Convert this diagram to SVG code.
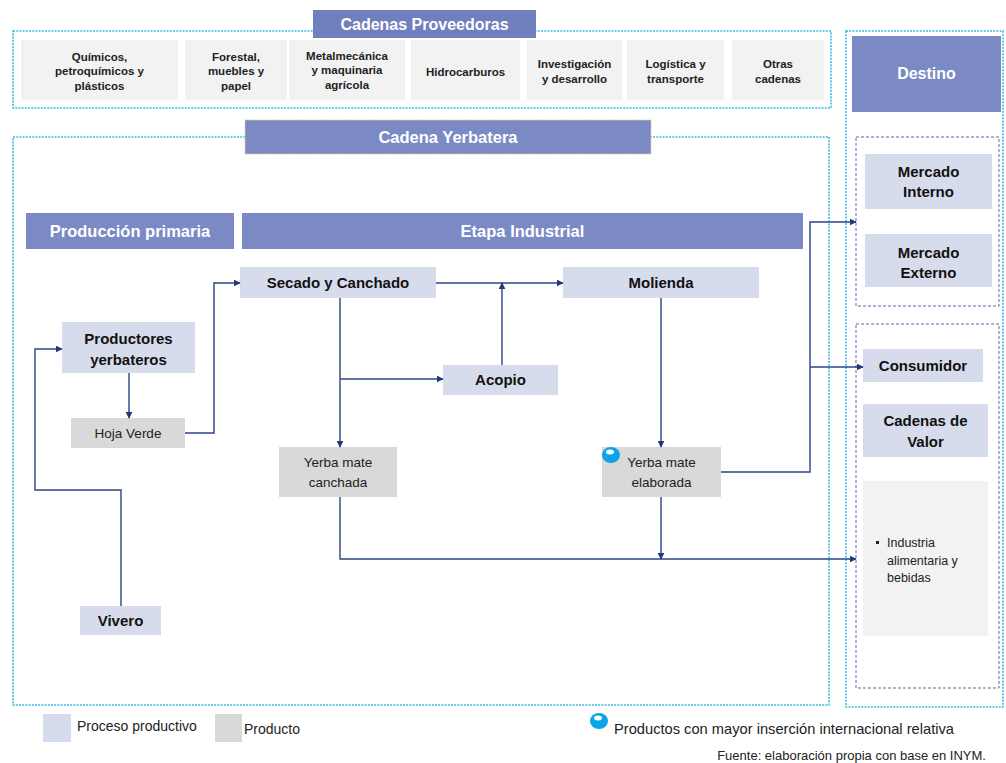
<svg xmlns="http://www.w3.org/2000/svg" width="1006" height="763" viewBox="0 0 1006 763">
<defs>
<marker id="ah" viewBox="0 0 10 10" refX="9" refY="5" markerWidth="7" markerHeight="7" markerUnits="userSpaceOnUse" orient="auto"><path d="M0,0 L10,5 L0,10 z" fill="#1f3a78"/></marker>
<style>
.cy{fill:none;stroke:#3cb8e8;stroke-width:1.6;stroke-dasharray:2 1.2}
.nv{fill:none;stroke:#5a68a8;stroke-width:1;stroke-dasharray:3 2}
.hd{fill:#7b8ac5}
.pr{fill:#d7dcec}
.pd{fill:#d9d9d9}
.sp{fill:#f2f2f2}
.ht{font-family:"Liberation Sans",Arial,sans-serif;font-weight:bold;fill:#ffffff;text-anchor:middle}
.nt{font-family:"Liberation Sans",Arial,sans-serif;font-weight:bold;fill:#111111;text-anchor:middle;font-size:15px}
.pt{font-family:"Liberation Sans",Arial,sans-serif;fill:#222222;text-anchor:middle;font-size:13.5px}
.st{font-family:"Liberation Sans",Arial,sans-serif;font-weight:bold;fill:#222222;text-anchor:middle;font-size:11.5px}
.lt{font-family:"Liberation Sans",Arial,sans-serif;fill:#222222}
.cn{fill:none;stroke:#2b4483;stroke-width:1.4}
</style>
</defs>
<rect width="1006" height="763" fill="#ffffff"/>

<!-- Cadenas Proveedoras -->
<g id="proveedoras">
<rect class="cy" x="13" y="31" width="818" height="77"/>
<rect x="313" y="10" width="223" height="28" fill="#6f80bd"/>
<text class="ht" x="424.5" y="30" font-size="16">Cadenas Proveedoras</text>
</g>
<g id="quimicos"><rect class="sp" x="21" y="40" width="157" height="60"/>
<text class="st" x="99.5" y="61">Químicos,</text><text class="st" x="99.5" y="75">petroquímicos y</text><text class="st" x="99.5" y="90">plásticos</text></g>
<g id="forestal"><rect class="sp" x="185" y="40" width="102" height="60"/>
<text class="st" x="236" y="61">Forestal,</text><text class="st" x="236" y="75">muebles y</text><text class="st" x="236" y="90">papel</text></g>
<g id="metalmecanica"><rect class="sp" x="289" y="40" width="116" height="60"/>
<text class="st" x="347" y="60">Metalmecánica</text><text class="st" x="347" y="74">y maquinaria</text><text class="st" x="347" y="89">agrícola</text></g>
<g id="hidrocarburos"><rect class="sp" x="411" y="40" width="109" height="60"/>
<text class="st" x="465.5" y="76">Hidrocarburos</text></g>
<g id="investigacion"><rect class="sp" x="527" y="40" width="95" height="60"/>
<text class="st" x="574.5" y="68">Investigación</text><text class="st" x="574.5" y="83">y desarrollo</text></g>
<g id="logistica"><rect class="sp" x="627" y="40" width="97" height="60"/>
<text class="st" x="675.5" y="68">Logística y</text><text class="st" x="675.5" y="83">transporte</text></g>
<g id="otras"><rect class="sp" x="732" y="40" width="92" height="60"/>
<text class="st" x="778" y="68">Otras</text><text class="st" x="778" y="83">cadenas</text></g>

<!-- Destino -->
<g id="destino">
<rect class="cy" x="846" y="31" width="157" height="676"/>
<rect class="hd" x="852" y="36" width="149" height="76"/>
<text class="ht" x="926.5" y="79" font-size="16">Destino</text>
<rect class="nv" x="856" y="137" width="143" height="169"/>
<rect class="nv" x="856" y="324" width="143" height="364"/>
</g>
<g id="mercado-interno"><rect class="pr" x="865" y="154" width="127" height="55"/>
<text class="nt" x="928.5" y="177" font-size="15.5">Mercado</text><text class="nt" x="928.5" y="197" font-size="15.5">Interno</text></g>
<g id="mercado-externo"><rect class="pr" x="865" y="234" width="127" height="53"/>
<text class="nt" x="928.5" y="258" font-size="15.5">Mercado</text><text class="nt" x="928.5" y="278" font-size="15.5">Externo</text></g>
<g id="consumidor"><rect class="pr" x="863" y="349" width="120" height="33"/>
<text class="nt" x="923" y="371">Consumidor</text></g>
<g id="cadenas-valor"><rect class="pr" x="863" y="404" width="125" height="53"/>
<text class="nt" x="925.5" y="426" font-size="15.5">Cadenas de</text><text class="nt" x="925.5" y="447" font-size="15.5">Valor</text></g>
<g id="industria"><rect class="sp" x="863" y="481" width="125" height="155"/>
<rect x="876" y="541" width="3" height="3" fill="#222"/>
<text class="lt" x="887" y="547" font-size="12.5">Industria</text>
<text class="lt" x="887" y="565" font-size="12.5">alimentaria y</text>
<text class="lt" x="887" y="582" font-size="12.5">bebidas</text></g>

<!-- Cadena Yerbatera -->
<g id="yerbatera">
<rect class="cy" x="13" y="137" width="816" height="568"/>
<rect class="hd" x="245" y="120" width="406" height="34" stroke="#d8d090" stroke-width="1" stroke-dasharray="2 1"/>
<text class="ht" x="448" y="143" font-size="16.5">Cadena Yerbatera</text>
</g>
<g id="produccion-primaria"><rect class="hd" x="26" y="213" width="208" height="36"/>
<text class="ht" x="130" y="237" font-size="16.5">Producción primaria</text></g>
<g id="etapa-industrial"><rect class="hd" x="242" y="213" width="561" height="36"/>
<text class="ht" x="522.5" y="237" font-size="16.5">Etapa Industrial</text></g>

<g id="secado"><rect class="pr" x="240" y="267" width="196" height="31"/>
<text class="nt" x="338" y="288">Secado y Canchado</text></g>
<g id="molienda"><rect class="pr" x="563" y="267" width="196" height="31"/>
<text class="nt" x="661" y="288">Molienda</text></g>
<g id="acopio"><rect class="pr" x="443" y="365" width="115" height="30"/>
<text class="nt" x="500.5" y="385">Acopio</text></g>
<g id="productores"><rect class="pr" x="62" y="322" width="133" height="51"/>
<text class="nt" x="128.5" y="344">Productores</text><text class="nt" x="128.5" y="365">yerbateros</text></g>
<g id="hoja-verde"><rect class="pd" x="71" y="418" width="114" height="30"/>
<text class="pt" x="128" y="438">Hoja Verde</text></g>
<g id="canchada"><rect class="pd" x="279" y="447" width="118" height="50"/>
<text class="pt" x="338" y="467">Yerba mate</text><text class="pt" x="338" y="487">canchada</text></g>
<g id="elaborada"><rect class="pd" x="602" y="447" width="119" height="50"/>
<text class="pt" x="661.5" y="467">Yerba mate</text><text class="pt" x="661.5" y="487">elaborada</text>
<ellipse cx="611" cy="455" rx="9" ry="8" fill="#0aa4e8"/><ellipse cx="610" cy="452" rx="4" ry="2.5" fill="#ffffff"/></g>
<g id="vivero"><rect class="pr" x="80" y="606" width="81" height="29"/>
<text class="nt" x="120.5" y="626">Vivero</text></g>

<!-- Connectors -->
<g id="connectors">
<path class="cn" d="M436,283 H563" marker-end="url(#ah)"/>
<path class="cn" d="M502,365 V283" marker-end="url(#ah)"/>
<path class="cn" d="M340,298 V447" marker-end="url(#ah)"/>
<path class="cn" d="M340,379 H443" marker-end="url(#ah)"/>
<path class="cn" d="M185,433 H214 V283 H240" marker-end="url(#ah)"/>
<path class="cn" d="M129,373 V418" marker-end="url(#ah)"/>
<path class="cn" d="M121,606 V490 H35 V349 H62" marker-end="url(#ah)"/>
<path class="cn" d="M661,298 V447" marker-end="url(#ah)"/>
<path class="cn" d="M721,472 H810 V222 H856" marker-end="url(#ah)"/>
<path class="cn" d="M810,367 H863" marker-end="url(#ah)"/>
<path class="cn" d="M340,497 V559 H856" marker-end="url(#ah)"/>
<path class="cn" d="M661,497 V559" marker-end="url(#ah)"/>
</g>

<!-- Legend -->
<g id="legend">
<rect class="pr" x="43" y="714" width="28" height="28"/>
<text class="lt" x="77" y="731" font-size="14">Proceso productivo</text>
<rect class="pd" x="215" y="714" width="27" height="28"/>
<text class="lt" x="244" y="734" font-size="14">Producto</text>
<ellipse cx="599" cy="721" rx="9" ry="8" fill="#0aa4e8"/><ellipse cx="598" cy="718" rx="4" ry="2.5" fill="#ffffff"/>
<text class="lt" x="614" y="734" font-size="14.5" textLength="340" lengthAdjust="spacingAndGlyphs">Productos con mayor inserción internacional relativa</text>
<text class="lt" x="986" y="760" font-size="13" text-anchor="end">Fuente: elaboración propia con base en INYM.</text>
</g>
</svg>
